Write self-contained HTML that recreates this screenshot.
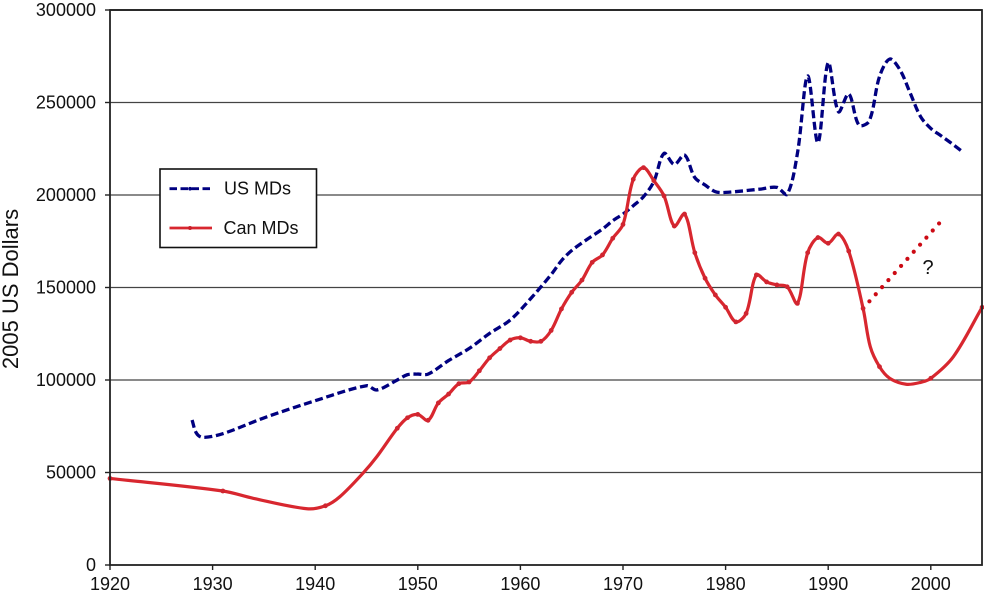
<!DOCTYPE html>
<html>
<head>
<meta charset="utf-8">
<title>US and Canadian MD incomes</title>
<style>
html,body{margin:0;padding:0;background:#fff;}
#chart-wrap{width:984px;height:596px;overflow:hidden;}
svg{display:block;font-family:"Liberation Sans",Arial,sans-serif;fill:#111;}
</style>
</head>
<body>
<div id="chart-wrap">
<svg id="chart" width="984" height="596" viewBox="0 0 984 596">
  <g id="grid"></g>
  <g id="ticks"></g>
  <g id="series"></g>
  <rect x="110" y="10" width="872" height="555" fill="none" stroke="#222" stroke-width="1.8"></rect>
  <g id="labels"></g>
  <text x="18" y="289" font-size="22" text-anchor="middle" transform="rotate(-90 18 289)">2005 US Dollars</text>
  <text x="928" y="274" font-size="20" text-anchor="middle">?</text>
  <g>
    <rect x="160" y="169" width="156.5" height="78.5" fill="#fff" stroke="#111" stroke-width="1.6"></rect>
    <line x1="169.5" y1="188.7" x2="212" y2="188.7" stroke="#000080" stroke-width="2.8" stroke-dasharray="7.5 3.5"></line>
    <circle cx="190" cy="188.7" r="1.8" fill="#000080"></circle>
    <text x="224" y="194.5" font-size="18">US MDs</text>
    <line x1="169.5" y1="228" x2="212" y2="228" stroke="#d8272f" stroke-width="2.8"></line>
    <circle cx="190" cy="228" r="2" fill="#c9202a"></circle>
    <text x="223.5" y="234" font-size="18">Can MDs</text>
  </g>
</svg>
</div>
<script>
const xTickLabels = [1920, 1930, 1940, 1950, 1960, 1970, 1980, 1990, 2000];
const yTickLabels = [0, 50000, 100000, 150000, 200000, 250000, 300000];

const usYears = [1928, 1928.4, 1929, 1931, 1935, 1940, 1945, 1946, 1948, 1949, 1950, 1951, 1953, 1955, 1957, 1959, 1961, 1963, 1964, 1965, 1966.5, 1968, 1969, 1970, 1971, 1972, 1973, 1974, 1975, 1976, 1977, 1978, 1979, 1980, 1983.4, 1985, 1986, 1987, 1988, 1989, 1990, 1991, 1992, 1993, 1994, 1995, 1996, 1997, 1998, 1999, 2000, 2001, 2002, 2003];
const usValues = [78400, 71500, 69000, 71000, 79500, 88800, 96900, 94600, 100000, 102900, 103200, 103200, 110500, 117000, 125200, 132400, 144000, 157000, 164500, 170000, 176000, 181600, 186100, 189700, 194200, 199100, 207200, 222500, 216500, 221600, 209400, 205400, 201800, 201400, 203200, 204100, 200400, 222500, 264300, 228300, 271500, 245000, 254600, 237800, 240000, 264000, 273500, 267600, 255000, 242400, 236000, 232000, 228000, 223800];

const canYears = [1920, 1931, 1934, 1939.2, 1941, 1942.4, 1944.7, 1946, 1948, 1949, 1950, 1951, 1952, 1953, 1954, 1955, 1956, 1957, 1958, 1959, 1960, 1961, 1962, 1963, 1964, 1965, 1966, 1967, 1968, 1969, 1970, 1971, 1972, 1973, 1974, 1975, 1976, 1977, 1978, 1979, 1980, 1981, 1982, 1983, 1984, 1985, 1986, 1987, 1988, 1989, 1990, 1991, 1992, 1993.4, 1994.1, 1995, 1996, 1997.6, 1999, 2000, 2002.2, 2005];
const canValues = [46800, 40000, 36000, 30400, 32000, 36900, 49900, 58500, 73900, 79600, 81400, 78200, 87600, 92400, 98000, 98900, 105000, 112000, 117000, 121600, 122800, 120900, 120900, 126800, 138400, 147400, 154000, 163600, 167600, 176600, 184100, 208500, 214800, 207800, 199500, 183200, 189700, 168800, 155000, 146000, 139300, 131400, 136000, 156800, 153000, 151400, 150400, 141400, 168800, 177000, 173900, 178900, 169700, 138700, 118000, 107200, 100900, 97700, 98700, 100900, 112600, 139300];
const canUnmarkedYears = [1934, 1939.2, 1942.4, 1944.7, 1946, 1994.1, 1996, 1997.6, 1999, 2002.2];

const projectionYears = [1993.4, 2000.85];
const projectionValues = [138700, 184900];

const SVG_NS = 'http://www.w3.org/2000/svg';
const xScale = year => 110 + (year - 1920) * 10.26;
const yScale = value => 565 - value * 0.00185;

function make(tag, parentId) {
  const el = document.createElementNS(SVG_NS, tag);
  document.getElementById(parentId).appendChild(el);
  return el;
}

function smoothPath(xs, ys) {
  const pts = xs.map((x, i) => [xScale(x), yScale(ys[i])]);
  const dist = (a, b) => Math.hypot(a[0] - b[0], a[1] - b[1]) || 0.001;
  let d = 'M' + pts[0][0].toFixed(2) + ' ' + pts[0][1].toFixed(2);
  for (let i = 0; i < pts.length - 1; i++) {
    const p0 = pts[Math.max(i - 1, 0)], p1 = pts[i], p2 = pts[i + 1], p3 = pts[Math.min(i + 2, pts.length - 1)];
    const seg = dist(p1, p2);
    const a = seg / (dist(p0, p1) + seg) / 3;
    const b = seg / (seg + dist(p2, p3)) / 3;
    const c1x = p1[0] + (p2[0] - p0[0]) * a, c1y = p1[1] + (p2[1] - p0[1]) * a;
    const c2x = p2[0] - (p3[0] - p1[0]) * b, c2y = p2[1] - (p3[1] - p1[1]) * b;
    d += 'C' + [c1x, c1y, c2x, c2y, p2[0], p2[1]].map(n => n.toFixed(2)).join(' ');
  }
  return d;
}

yTickLabels.forEach(v => {
  if (v > 0) {
    const g = make('line', 'grid');
    
    
    g.setAttribute('x1', 110);
    g.setAttribute('x2', 982);
    g.setAttribute('y1', yScale(v));
    g.setAttribute('y2', yScale(v));
    g.setAttribute('stroke', '#444');
    g.setAttribute('stroke-width', v === 300000 ? 1.8 : 1.2);
  }
  const t = make('line', 'ticks');
  
  
  t.setAttribute('x1', 105);
  t.setAttribute('x2', 110);
  t.setAttribute('y1', yScale(v));
  t.setAttribute('y2', yScale(v));
  t.setAttribute('stroke', '#222');
  t.setAttribute('stroke-width', 1.4);
  const l = make('text', 'labels');
  
  
  l.setAttribute('x', 96);
  l.setAttribute('y', yScale(v) + 6);
  l.setAttribute('font-size', 18);
  l.setAttribute('text-anchor', 'end');
  l.textContent = v;
});

xTickLabels.forEach(y => {
  const t = make('line', 'ticks');
  
  
  t.setAttribute('x1', xScale(y));
  t.setAttribute('x2', xScale(y));
  t.setAttribute('y1', 565);
  t.setAttribute('y2', 570);
  t.setAttribute('stroke', '#222');
  t.setAttribute('stroke-width', 1.4);
  const l = make('text', 'labels');
  
  
  l.setAttribute('x', xScale(y));
  l.setAttribute('y', 590);
  l.setAttribute('font-size', 18);
  l.setAttribute('text-anchor', 'middle');
  l.textContent = y;
});

const projectionLine = make('line', 'series');


projectionLine.setAttribute('x1', xScale(projectionYears[0]));
projectionLine.setAttribute('y1', yScale(projectionValues[0]));
projectionLine.setAttribute('x2', xScale(projectionYears[1]));
projectionLine.setAttribute('y2', yScale(projectionValues[1]));
projectionLine.setAttribute('stroke', '#cc0a14');
projectionLine.setAttribute('stroke-width', 4.2);
projectionLine.setAttribute('stroke-linecap', 'round');
projectionLine.setAttribute('stroke-dasharray', '0 9.5');

const usLine = make('path', 'series');


usLine.setAttribute('d', smoothPath(usYears, usValues));
usLine.setAttribute('fill', 'none');
usLine.setAttribute('stroke', '#000080');
usLine.setAttribute('stroke-width', 3.3);
usLine.setAttribute('stroke-dasharray', '8 3.7');

const canLine = make('path', 'series');


canLine.setAttribute('d', smoothPath(canYears, canValues));
canLine.setAttribute('fill', 'none');
canLine.setAttribute('stroke', '#d8272f');
canLine.setAttribute('stroke-width', 3.2);

canYears.forEach((y, i) => {
  if (canUnmarkedYears.includes(y)) return;
  const m = make('circle', 'series');
  
  
  m.setAttribute('cx', xScale(y));
  m.setAttribute('cy', yScale(canValues[i]));
  m.setAttribute('r', 2.4);
  m.setAttribute('fill', '#d02530');
});
</script>
</body>
</html>
